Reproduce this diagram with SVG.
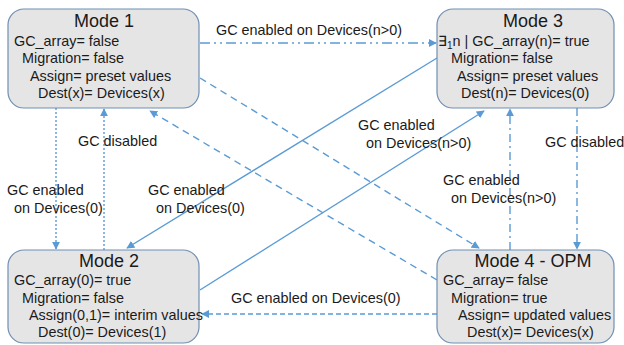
<svg xmlns="http://www.w3.org/2000/svg" width="624" height="345" viewBox="0 0 624 345">
<defs>
<style>
.box{fill:#e6e5e6;stroke:#6f8fb3;stroke-width:1.2}
.t{font-family:"Liberation Sans",Arial,sans-serif;font-size:14.4px;fill:#1a1a1a}
.title{font-family:"Liberation Sans",Arial,sans-serif;font-size:18px;fill:#1a1a1a;text-anchor:middle}
.c{fill:none;stroke:#5b9bd5;stroke-width:1.4}
.dd{stroke-dasharray:10 4 2 4 2 4}
.dot{stroke-dasharray:2 2}
.dash{stroke-dasharray:7 5}
.dash2{stroke-dasharray:5 3}
.dashdot{stroke-dasharray:8 4 2 4}
</style>
<marker id="ah" viewBox="0 0 10 10" refX="9" refY="5" markerWidth="8" markerHeight="8" markerUnits="userSpaceOnUse" orient="auto">
<path d="M0,0 L10,5 L0,10 z" fill="#5b9bd5"/>
</marker>
</defs>
<rect width="624" height="345" fill="#ffffff"/>
<g id="connectors">
<line class="c dd" x1="200" y1="43" x2="436" y2="43" marker-end="url(#ah)"/>
<line class="c dot" x1="56" y1="108" x2="56" y2="249" marker-end="url(#ah)"/>
<line class="c dot" x1="104" y1="250" x2="104" y2="109" marker-end="url(#ah)"/>
<line class="c" x1="437" y1="58" x2="127" y2="248" marker-end="url(#ah)"/>
<line class="c" x1="200" y1="290" x2="484" y2="111" marker-end="url(#ah)"/>
<line class="c dash" x1="437" y1="280" x2="150" y2="111" marker-end="url(#ah)"/>
<line class="c dash" x1="200" y1="78" x2="479" y2="248" marker-end="url(#ah)"/>
<line class="c dashdot" x1="510" y1="250" x2="510" y2="109" marker-end="url(#ah)"/>
<line class="c dashdot" x1="577" y1="108" x2="577" y2="249" marker-end="url(#ah)"/>
<line class="c dash2" x1="437" y1="314" x2="202" y2="314" marker-end="url(#ah)"/>
<text class="t" x="216" y="35">GC enabled on Devices(n&gt;0)</text>
<text class="t" x="7" y="195">GC enabled</text>
<text class="t" x="14" y="213">on Devices(0)</text>
<text class="t" x="78" y="146">GC disabled</text>
<text class="t" x="148" y="195">GC enabled</text>
<text class="t" x="156" y="213">on Devices(0)</text>
<text class="t" x="358" y="130">GC enabled</text>
<text class="t" x="366" y="148">on Devices(n&gt;0)</text>
<text class="t" x="443" y="185">GC enabled</text>
<text class="t" x="451" y="203">on Devices(n&gt;0)</text>
<text class="t" x="545" y="147">GC disabled</text>
<text class="t" x="231" y="303">GC enabled on Devices(0)</text>
</g>
<g id="mode1">
<rect class="box" x="8" y="9" width="191" height="99" rx="16"/>
<text class="title" x="104" y="27">Mode 1</text>
<text class="t" x="14" y="46">GC_array= false</text>
<text class="t" x="22" y="63">Migration= false</text>
<text class="t" x="30" y="81">Assign= preset values</text>
<text class="t" x="38" y="98">Dest(x)= Devices(x)</text>
</g>
<g id="mode3">
<rect class="box" x="437" y="9" width="177" height="99" rx="16"/>
<text class="title" x="533" y="27">Mode 3</text>
<text class="t" x="438" y="46">∃<tspan font-size="10" dy="3">1</tspan><tspan dy="-3">n | GC_array(n)= true</tspan></text>
<text class="t" x="451" y="63">Migration= false</text>
<text class="t" x="457" y="81">Assign= preset values</text>
<text class="t" x="461" y="98">Dest(n)= Devices(0)</text>
</g>
<g id="mode2">
<rect class="box" x="8" y="250" width="191" height="93" rx="16"/>
<text class="title" x="109" y="267">Mode 2</text>
<text class="t" x="14" y="285">GC_array(0)= true</text>
<text class="t" x="22" y="303">Migration= false</text>
<text class="t" x="29" y="320">Assign(0,1)= interim values</text>
<text class="t" x="38" y="337">Dest(0)= Devices(1)</text>
</g>
<g id="mode4">
<rect class="box" x="437" y="250" width="177" height="93" rx="16"/>
<text class="title" x="533" y="267">Mode 4 - OPM</text>
<text class="t" x="443" y="285">GC_array= false</text>
<text class="t" x="451" y="303">Migration= true</text>
<text class="t" x="458" y="320">Assign= updated values</text>
<text class="t" x="467" y="337">Dest(x)= Devices(x)</text>
</g>
</svg>
